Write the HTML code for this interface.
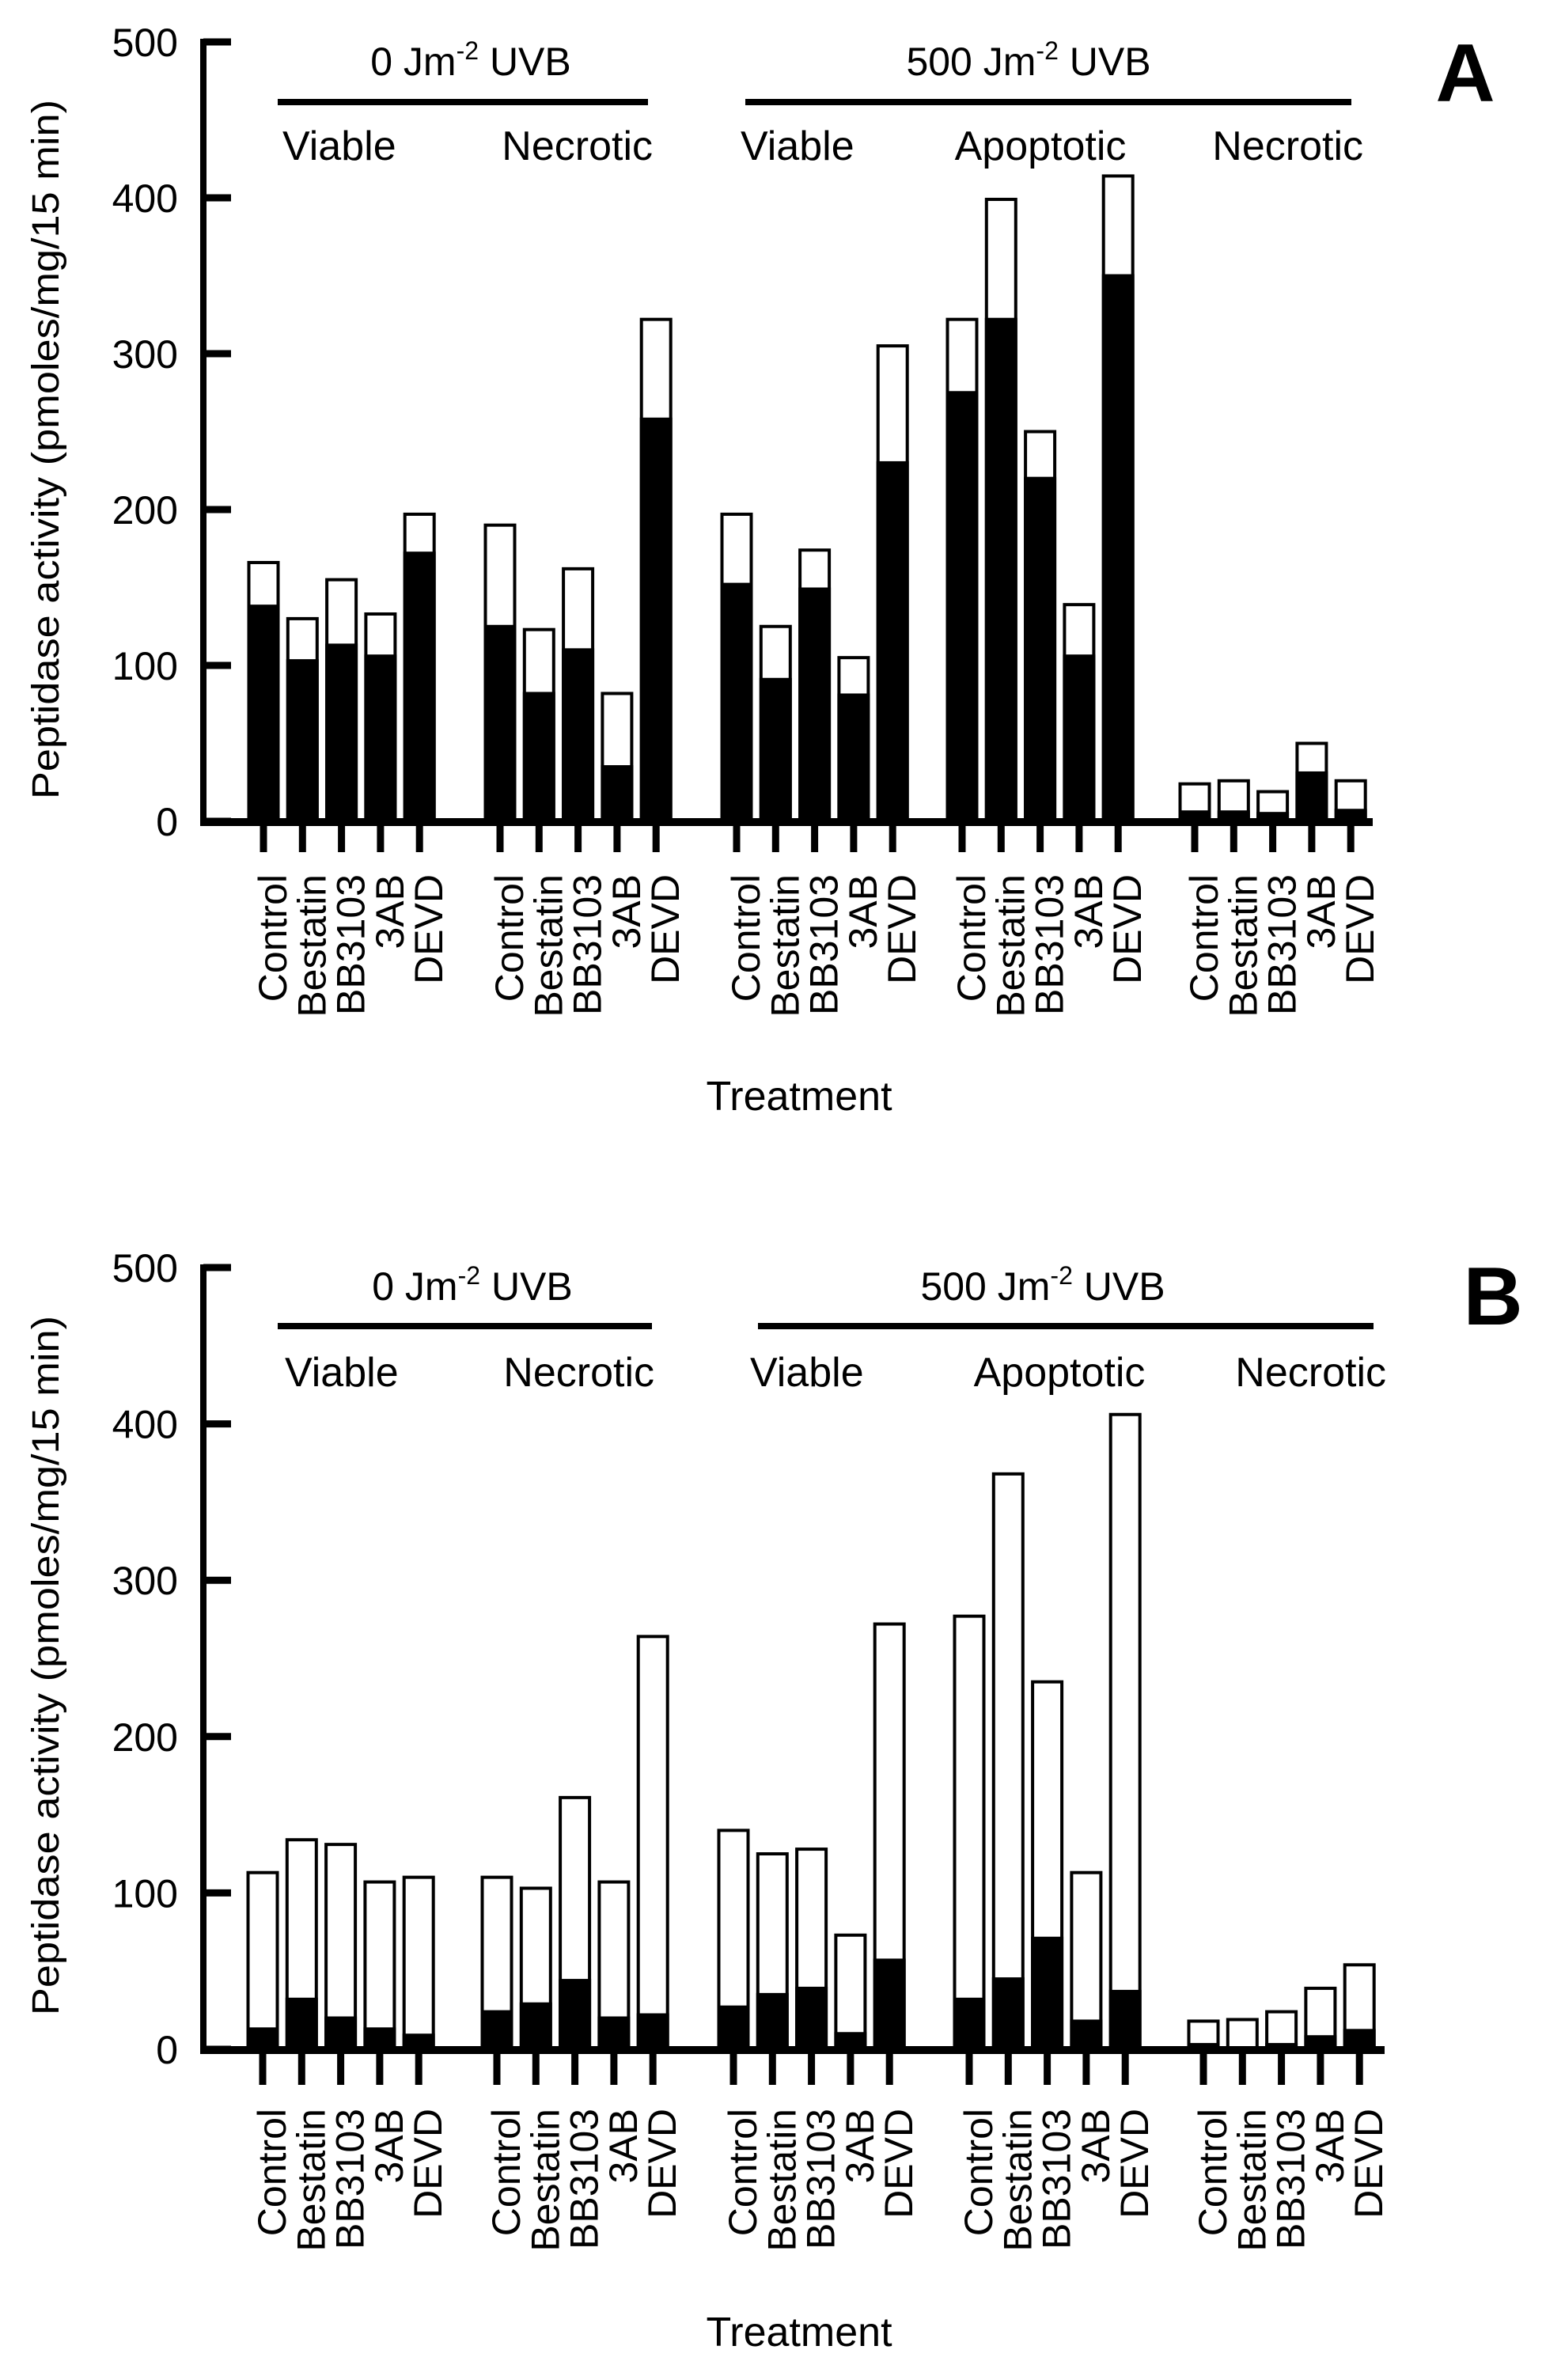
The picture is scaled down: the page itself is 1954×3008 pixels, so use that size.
<!DOCTYPE html>
<html><head><meta charset="utf-8"><style>
html,body{margin:0;padding:0;background:#fff;}
svg{display:block;font-family:"Liberation Sans",Arial,sans-serif;}
</style></head><body>
<svg id="chart" width="1954" height="3008" viewBox="0 0 1954 3008" xmlns="http://www.w3.org/2000/svg"></svg>
<script>
const categories = ["Control","Bestatin","BB3103","3AB","DEVD"];
const groupNames = ["Viable","Necrotic","Viable","Apoptotic","Necrotic"];
const yTicks = [0,100,200,300,400,500];
// Panel A values (group-major: 5 groups x 5 treatments)
const totalA = [166,130,155,133,197, 190,123,162,82,322, 197,125,174,105,305, 322,399,250,139,414, 24,26,19,50,26];
const blackA = [139,104,114,107,173, 126,83,111,36,259, 153,92,150,82,231, 276,323,221,107,351, 7,7,6,32,8];
// Panel B values
const totalB = [113,134,131,107,110, 110,103,161,107,264, 140,125,128,73,272, 277,368,235,113,406, 18,19,24,39,54];
const blackB = [14,33,21,14,10, 25,30,45,21,23, 28,36,40,11,58, 33,46,72,19,38, 4,2,4,9,13];

const NS="http://www.w3.org/2000/svg";
const svg=document.getElementById('chart');
function mk(tag,attrs,parent){const e=document.createElementNS(NS,tag);for(const k in attrs)e.setAttribute(k,attrs[k]);(parent||svg).appendChild(e);return e;}

function panel(cfg){
  const g=mk('g',{});
  
  
  const y=v=>cfg.y0-(v/500)*(cfg.y0-cfg.y500);
  const xBar=i=>cfg.groups[Math.floor(i/5)]+ (i%5)*49.3;
  // bars
  for(let i=0;i<cfg.total.length;i++){
    const cx=xBar(i), w=37;
    const r=mk('rect',{x:cx-w/2,y:y(cfg.total[i]),width:w,height:y(0)-y(cfg.total[i]),fill:'#fff',stroke:'#000','stroke-width':4},g);
    
    
    const b=mk('rect',{x:cx-w/2-2,y:y(cfg.black[i]),width:w+4,height:y(0)-y(cfg.black[i]),fill:'#000'},g);
    
    
    const t=mk('line',{x1:cx,x2:cx,y1:y(0),y2:cfg.tickBottom,stroke:'#000','stroke-width':9},g);
    
    
    const lab=mk('text',{x:0,y:0,transform:`translate(${cx+29},${cfg.labelTop}) rotate(-90)`,'text-anchor':'end','font-size':50},g);
    lab.textContent=categories[i%5];
    
    
  }
  // axes
  const ya=mk('line',{x1:257,x2:257,y1:y(500)-4,y2:y(0)+4,stroke:'#000','stroke-width':8},g);
  
  
  const xa=mk('line',{x1:253,x2:cfg.xEnd,y1:y(0)+1,y2:y(0)+1,stroke:'#000','stroke-width':10},g);
  
  
  yTicks.forEach(v=>{
    const tk=mk('line',{x1:257,x2:292,y1:y(v),y2:y(v),stroke:'#000','stroke-width':9},g);
    
    
    const tl=mk('text',{x:225,y:y(v)+18,'text-anchor':'end','font-size':50},g);
    tl.textContent=v;
    
    
  });
  // y title
  const yt=mk('text',{x:0,y:0,transform:`translate(74,${cfg.titleY}) rotate(-90)`,'text-anchor':'middle','font-size':48,textLength:884,lengthAdjust:'spacingAndGlyphs'},g);
  yt.textContent='Peptidase activity (pmoles/mg/15 min)';
  
  
  // x title
  const xt=mk('text',{x:1010,y:cfg.treatY,'text-anchor':'middle','font-size':52},g);
  xt.textContent='Treatment';
  
  
  // headers
  cfg.heads.forEach(h=>{
    const ht=mk('text',{x:h.cx,y:cfg.headY,'text-anchor':'middle','font-size':50},g);
    ht.innerHTML=h.dose+' Jm<tspan font-size="32" dy="-20">-2</tspan><tspan dy="20"> UVB</tspan>';
    
    
    const hl=mk('line',{x1:h.x1,x2:h.x2,y1:cfg.lineY,y2:cfg.lineY,stroke:'#000','stroke-width':8},g);
    
    
  });
  cfg.subs.forEach((s,k)=>{
    const st=mk('text',{x:s.x,y:cfg.subY,'text-anchor':s.a,'font-size':52},g);
    st.textContent=groupNames[k];
    
    
  });
  const L=mk('text',{x:cfg.letterX,y:cfg.letterY,'text-anchor':'middle','font-size':104,'font-weight':'bold'},g);
  L.textContent=cfg.letter;
  
  
}

panel({letter:'A',total:totalA,black:blackA,y0:1038,y500:53,groups:[333,632,931,1216,1510],xEnd:1735,
  tickBottom:1077,labelTop:1105,titleY:568,treatY:1403,headY:95,lineY:129,subY:202,letterX:1852,letterY:128,
  heads:[{dose:'0',cx:595,x1:351,x2:819},{dose:'500',cx:1300,x1:942,x2:1708}],
  subs:[{x:357,a:'start'},{x:825,a:'end'},{x:936,a:'start'},{x:1315,a:'middle'},{x:1723,a:'end'}]});
panel({letter:'B',total:totalB,black:blackB,y0:2590,y500:1602,groups:[332,628,927,1225,1521],xEnd:1750,
  tickBottom:2635,labelTop:2665,titleY:2105,treatY:2965,headY:1643,lineY:1676,subY:1752,letterX:1887,letterY:1674,
  heads:[{dose:'0',cx:597,x1:351,x2:824},{dose:'500',cx:1318,x1:958,x2:1736}],
  subs:[{x:360,a:'start'},{x:827,a:'end'},{x:948,a:'start'},{x:1339,a:'middle'},{x:1752,a:'end'}]});
</script>
</body></html>
